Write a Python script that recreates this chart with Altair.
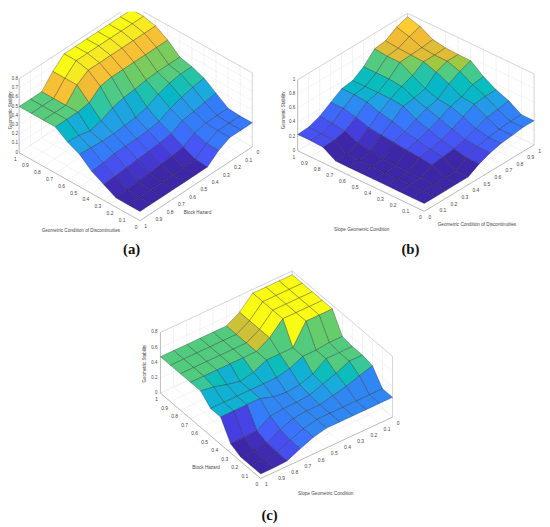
import altair as alt

# ---------------- data ----------------
AXIS_VALUES = [0.0, 0.1, 0.2, 0.3, 0.4, 0.5, 0.6, 0.7, 0.8, 0.9, 1.0]
AXIS_LABELS = ["0", "0.1", "0.2", "0.3", "0.4", "0.5", "0.6", "0.7", "0.8", "0.9", "1"]

# (a) rows: Geometric Condition of Discontinuities 0..1, cols: Block Hazard 0..1
Z_A = [
    [.26, .26, .26, .20, .10, .10, .10, .10, .10, .10, .10],
    [.26, .26, .26, .20, .11, .10, .10, .10, .10, .10, .10],
    [.27, .27, .27, .24, .17, .15, .14, .13, .12, .11, .10],
    [.36, .34, .32, .30, .24, .22, .21, .20, .19, .18, .17],
    [.45, .43, .40, .36, .30, .28, .27, .27, .27, .25, .24],
    [.50, .50, .48, .44, .38, .35, .34, .33, .33, .34, .35],
    [.53, .53, .53, .52, .50, .49, .46, .40, .37, .40, .41],
    [.64, .64, .64, .64, .64, .64, .62, .52, .50, .50, .50],
    [.72, .72, .72, .72, .72, .72, .72, .64, .50, .50, .50],
    [.75, .75, .75, .75, .75, .75, .75, .64, .50, .50, .50],
    [.75, .75, .75, .75, .75, .75, .75, .64, .50, .50, .50],
]
# (b) rows: Slope Geometric Condition 0..1, cols: Geometric Condition of Discontinuities 0..1
Z_B = [
    [.11, .11, .11, .11, .11, .20, .26, .30, .32, .34, .34],
    [.11, .11, .11, .11, .11, .20, .26, .30, .32, .34, .34],
    [.11, .11, .11, .20, .22, .24, .28, .34, .40, .42, .45],
    [.11, .11, .11, .22, .24, .28, .34, .42, .50, .52, .52],
    [.11, .11, .11, .24, .28, .34, .40, .48, .52, .60, .62],
    [.11, .11, .12, .26, .32, .40, .46, .50, .62, .70, .76],
    [.11, .11, .14, .28, .38, .50, .52, .56, .70, .76, .76],
    [.11, .11, .18, .30, .42, .52, .60, .66, .76, .76, .77],
    [.22, .22, .26, .36, .48, .52, .62, .76, .77, .78, .80],
    [.23, .23, .28, .40, .50, .52, .62, .76, .78, .85, .90],
    [.23, .24, .30, .40, .50, .52, .62, .78, .80, .90, .95],
]
# (c) rows: Block Hazard 0..1, cols: Slope Geometric Condition 0..1
Z_C = [
    [.26, .26, .26, .26, .26, .26, .22, .15, .07, .06, .06],
    [.26, .26, .26, .26, .26, .26, .22, .15, .07, .06, .06],
    [.45, .40, .34, .30, .26, .26, .24, .18, .08, .06, .06],
    [.48, .48, .40, .34, .28, .26, .26, .24, .13, .12, .12],
    [.48, .48, .48, .36, .30, .28, .30, .36, .36, .36, .36],
    [.50, .50, .48, .48, .40, .36, .36, .36, .36, .36, .36],
    [.75, .75, .75, .48, .48, .48, .40, .36, .40, .45, .48],
    [.75, .75, .75, .75, .58, .48, .48, .48, .48, .48, .48],
    [.75, .75, .75, .75, .58, .48, .48, .48, .48, .48, .48],
    [.75, .75, .75, .75, .58, .48, .48, .48, .48, .48, .48],
    [.75, .75, .75, .75, .58, .48, .48, .48, .48, .48, .48],
]

ZTICKS_A = [0.0, 0.1, 0.2, 0.3, 0.4, 0.5, 0.6, 0.7, 0.8]
ZLABELS_A = ["0", "0.1", "0.2", "0.3", "0.4", "0.5", "0.6", "0.7", "0.8"]
ZTICKS_B = [0.0, 0.2, 0.4, 0.6, 0.8, 1.0]
ZLABELS_B = ["0", "0.2", "0.4", "0.6", "0.8", "1"]
ZTICKS_C = [0.0, 0.2, 0.4, 0.6, 0.8]
ZLABELS_C = ["0", "0.2", "0.4", "0.6", "0.8"]

TITLES_A = ["Geometric Condition of Discontinuities", "Block Hazard"]
TITLES_B = ["Slope Geometric Condition", "Geometric Condition of Discontinuities"]
TITLES_C = ["Block Hazard", "Slope Geometric Condition"]
Z_TITLE = "Geometric Stability"
CAPTIONS = ["(a)", "(b)", "(c)"]

# MATLAB parula colour map
PARULA_STOPS = [0 / 63, 5 / 63, 10 / 63, 15 / 63, 20 / 63, 25 / 63, 30 / 63,
                35 / 63, 40 / 63, 45 / 63, 50 / 63, 55 / 63, 59 / 63, 1.0]
PARULA = ["#3e26a8", "#463cde", "#4758f8", "#3875fe", "#2b91ef", "#1ca9df", "#02bac3",
          "#31c69f", "#64cd6f", "#abc739", "#f0ba36", "#fec934", "#f5e327", "#f9fb15"]

# ---------------- layout (screen geometry of each 3-D box) ----------------
PANELS = [
    dict(Z=Z_A, flip=True, zt=ZTICKS_A, zl=ZLABELS_A, titles=TITLES_A, cap=CAPTIONS[0],
         L=(19.3, 151.0), F=(142.0, 220.0), R=(256.0, 145.0), zs=93.75, zlo=-1.2,
         lt=(82.0, 230.3), rt=(200.3, 212.0), ztp=(10.6, 108.0), capp=(133.5, 248.5)),
    dict(Z=Z_B, flip=False, zt=ZTICKS_B, zl=ZLABELS_B, titles=TITLES_B, cap=CAPTIONS[1],
         L=(302.0, 149.0), F=(430.5, 210.5), R=(542.0, 143.0), zs=72.0, zlo=-2.5,
         lt=(367.0, 229.3), rt=(484.0, 224.3), ztp=(288.5, 108.0), capp=(416.5, 248.5)),
    dict(Z=Z_C, flip=True, zt=ZTICKS_C, zl=ZLABELS_C, titles=TITLES_C, cap=CAPTIONS[2],
         L=(162.7, 395.0), F=(264.5, 481.7), R=(398.3, 419.3), zs=77.0, zlo=-3.0,
         lt=(209.0, 471.0), rt=(330.5, 497.3), ztp=(147.0, 365.0), capp=(273.5, 519.0)),
]


def proj(P, p, q, z=0.0):
    (lx, ly), (fx, fy), (rx, ry) = P["L"], P["F"], P["R"]
    x = fx + p * (lx - fx) + q * (rx - fx)
    y = fy + p * (ly - fy) + q * (ry - fy) - z * P["zs"]
    return [round(x, 2), round(y, 2)]


GRID_COL, BOX_COL, AXIS_COL = "#e3e3e3", "#bdbdbd", "#8c8c8c"

line_feats, face_feats = [], []
right_rows, left_rows, zlab_rows, center_rows, vert_rows, cap_rows = [], [], [], [], [], []


def add_line(pts, col, w):
    line_feats.append({"type": "Feature",
                       "geometry": {"type": "LineString", "coordinates": pts},
                       "properties": {"col": col, "w": w}})


for P in PANELS:
    Z = P["Z"]
    n = len(AXIS_VALUES)
    ztop = P["zt"][-1]
    flip = P["flip"]

    def qpos(j, flip=flip):
        # screen position along the right-hand axis for data column j
        return 1 - AXIS_VALUES[j] if flip else AXIS_VALUES[j]

    # floor grid
    for v in AXIS_VALUES:
        add_line([proj(P, v, 0), proj(P, v, 1)], GRID_COL, 0.45)
        add_line([proj(P, 0, v), proj(P, 1, v)], GRID_COL, 0.45)
    # back walls: p = 1 and q = 1
    for v in AXIS_VALUES:
        add_line([proj(P, 1, v, 0), proj(P, 1, v, ztop)], GRID_COL, 0.45)
        add_line([proj(P, v, 1, 0), proj(P, v, 1, ztop)], GRID_COL, 0.45)
    for zv in P["zt"]:
        add_line([proj(P, 1, 0, zv), proj(P, 1, 1, zv), proj(P, 0, 1, zv)], GRID_COL, 0.45)
    # box edges
    add_line([proj(P, 1, 0, ztop), proj(P, 1, 1, ztop), proj(P, 0, 1, ztop)], BOX_COL, 0.55)
    add_line([proj(P, 1, 1, 0), proj(P, 1, 1, ztop)], BOX_COL, 0.55)
    add_line([proj(P, 0, 1, 0), proj(P, 0, 1, ztop)], BOX_COL, 0.55)
    # axes
    add_line([proj(P, 1, 0, ztop), proj(P, 1, 0, 0), proj(P, 0, 0, 0), proj(P, 0, 1, 0)], AXIS_COL, 0.55)

    # surface faces (flat shading: colour of the lowest-index vertex, as MATLAB surf)
    zvals = [v for row in Z for v in row]
    zmin, zmax = min(zvals), max(zvals)
    for a in range(n - 1):
        for b in range(n - 1):
            corners = [(a, b), (a + 1, b), (a + 1, b + 1), (a, b + 1)]
            ring = [proj(P, AXIS_VALUES[i], qpos(j), Z[i][j]) for i, j in corners]
            ring.append(ring[0])
            depth = proj(P, (AXIS_VALUES[a] + AXIS_VALUES[a + 1]) / 2,
                         (qpos(b) + qpos(b + 1)) / 2)[1]
            face_feats.append({"type": "Feature",
                               "geometry": {"type": "Polygon", "coordinates": [ring]},
                               "properties": {"t": (Z[a][b] - zmin) / (zmax - zmin), "d": depth}})

    # tick labels
    for v, s in zip(AXIS_VALUES, AXIS_LABELS):
        x, y = proj(P, v, 0)
        right_rows.append({"lon": x - 2.5, "lat": y + 6.0, "s": s})
    for v, s in zip(AXIS_VALUES, AXIS_LABELS):
        q = 1 - v if flip else v
        x, y = proj(P, 0, q)
        left_rows.append({"lon": x + 4.3, "lat": y + 5.8, "s": s})
    for zv, s in zip(P["zt"], P["zl"]):
        x, y = proj(P, 1, 0, zv)
        zlab_rows.append({"lon": x + P["zlo"], "lat": y, "s": s})
    center_rows.append({"lon": P["lt"][0], "lat": P["lt"][1], "s": P["titles"][0]})
    center_rows.append({"lon": P["rt"][0], "lat": P["rt"][1], "s": P["titles"][1]})
    vert_rows.append({"lon": P["ztp"][0], "lat": P["ztp"][1], "s": Z_TITLE})
    cap_rows.append({"lon": P["capp"][0], "lat": P["capp"][1], "s": P["cap"]})

face_feats.sort(key=lambda f: f["properties"]["d"])

PROJ = dict(type="identity", scale=1, translate=[-8, -8])

walls = alt.Chart(alt.Data(values=line_feats)).mark_geoshape(filled=False).encode(
    stroke=alt.Stroke("properties.col:N", scale=None),
    strokeWidth=alt.StrokeWidth("properties.w:Q", scale=None),
).project(**PROJ)

faces = alt.Chart(alt.Data(values=face_feats)).mark_geoshape(
    stroke="#161616", strokeWidth=0.35, strokeOpacity=0.85
).encode(
    color=alt.Color("properties.t:Q",
                    scale=alt.Scale(domain=PARULA_STOPS, range=PARULA, interpolate="rgb"),
                    legend=None)
).project(**PROJ)


def text_layer(rows, **mk):
    return alt.Chart(alt.Data(values=rows)).mark_text(**mk).encode(
        longitude="lon:Q", latitude="lat:Q", text="s:N"
    ).project(**PROJ)


FONT = "Liberation Sans"
TXT = "#474747"
t_right = text_layer(right_rows, align="right", baseline="middle", font=FONT, fontSize=5, color=TXT)
t_left = text_layer(left_rows, align="left", baseline="middle", font=FONT, fontSize=5, color=TXT)
t_zlab = text_layer(zlab_rows, align="right", baseline="middle", font=FONT, fontSize=4.6, color=TXT)
t_center = text_layer(center_rows, align="center", baseline="middle", font=FONT, fontSize=4.7, color=TXT)
t_vert = text_layer(vert_rows, align="center", baseline="middle", font=FONT, fontSize=4.6, color=TXT, angle=270)
t_cap = text_layer(cap_rows, align="center", baseline="middle", font="Liberation Serif",
                   fontSize=15, fontWeight="bold", color="#111111")

chart = alt.layer(walls, faces, t_right, t_left, t_zlab, t_center, t_vert, t_cap).properties(
    width=542, height=519, padding=0, autosize="none"
).configure_view(strokeWidth=0)

chart.save("out.html", embed_options={"renderer": "svg", "actions": False})
